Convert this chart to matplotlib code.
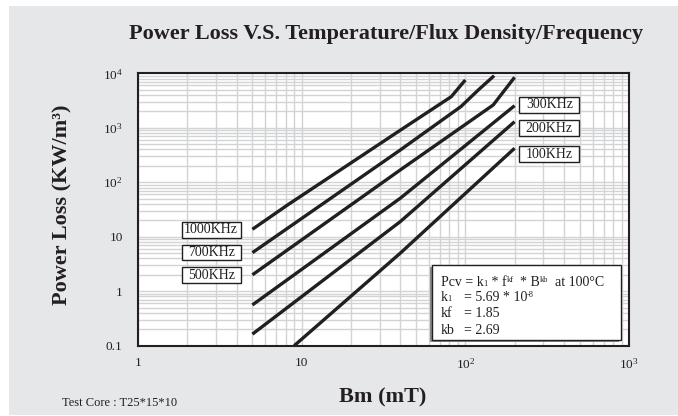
import matplotlib
matplotlib.use("Agg")
import matplotlib.pyplot as plt
from matplotlib.patches import Rectangle
from matplotlib.ticker import FixedLocator, FixedFormatter, LogLocator, NullFormatter

plt.rcParams['font.family'] = ['Liberation Serif', 'DejaVu Serif']
plt.rcParams['mathtext.fontset'] = 'custom'
plt.rcParams['mathtext.rm'] = 'Liberation Serif'
plt.rcParams['mathtext.it'] = 'Liberation Serif:italic'
plt.rcParams['mathtext.bf'] = 'Liberation Serif:bold'

#%% data (B in mT, P in kW/m3)

b_1000 = [5, 8.2, 40, 82, 100]
p_1000 = [13.7, 38.3, 900, 3720, 7540]

b_700 = [5, 40, 94, 120, 150]
p_700 = [5.1, 390, 2450, 4940, 9040]

b_500 = [5, 40, 148, 200]
p_500 = [2.0, 168, 2620, 8450]

b_300 = [5, 40, 200]
p_300 = [0.56, 50.8, 2545]

b_200 = [5, 40, 200]
p_200 = [0.163, 18.9, 1294]

b_100 = [9, 40, 200]
p_100 = [0.1, 4.98, 421]

left_labels = ['1000KHz', '700KHz', '500KHz']
right_labels = ['300KHz', '200KHz', '100KHz']

x_ticks = [1, 10, 100, 1000]
x_ticklabels = ['1', '10', r'$10^{2}$', r'$10^{3}$']
y_ticks = [0.1, 1, 10, 100, 1000, 10000]
y_ticklabels = ['0.1', '1', '10', r'$10^{2}$', r'$10^{3}$', r'$10^{4}$']

#%%

W, H = 678, 416
ink = '#231f20'


def fx(x):
    return x / W


def fy(y):
    return 1 - y / H


fig = plt.figure(figsize=(W / 100, H / 100), dpi=100, facecolor='white')
fig.add_artist(Rectangle((fx(9), fy(415)), fx(W - 9), (415 - 6) / H,
                         transform=fig.transFigure, facecolor='#e6e7e9',
                         edgecolor='none', zorder=0))

ax = fig.add_axes([fx(138), fy(345.7), fx(629 - 138), (345.7 - 73.3) / H])
ax.set_facecolor('white')
ax.set_xscale('log')
ax.set_yscale('log')
ax.set_xlim(1, 1000)
ax.set_ylim(0.1, 10000)

ax.xaxis.set_major_locator(FixedLocator(x_ticks))
ax.xaxis.set_major_formatter(FixedFormatter(x_ticklabels))
ax.yaxis.set_major_locator(FixedLocator(y_ticks))
ax.yaxis.set_major_formatter(FixedFormatter(y_ticklabels))
ax.xaxis.set_minor_locator(LogLocator(base=10, subs=range(2, 10), numticks=20))
ax.yaxis.set_minor_locator(LogLocator(base=10, subs=range(2, 10), numticks=20))
ax.xaxis.set_minor_formatter(NullFormatter())
ax.yaxis.set_minor_formatter(NullFormatter())
ax.tick_params(which='both', length=0, labelsize=9.5, colors=ink)
ax.tick_params(axis='x', pad=8)
ax.tick_params(axis='y', pad=11)
ax.grid(which='both', color='#d2d3d5', lw=1.0)
ax.set_axisbelow(True)
for s in ax.spines.values():
    s.set_color(ink)
    s.set_linewidth(1.5)

for b, p in [(b_1000, p_1000), (b_700, p_700), (b_500, p_500),
             (b_300, p_300), (b_200, p_200), (b_100, p_100)]:
    ax.plot(b, p, color=ink, lw=2.4, solid_capstyle='butt', solid_joinstyle='round')

#%% frequency boxes


def label_box(x0, y0, x1, y1, txt):
    fig.add_artist(Rectangle((fx(x0), fy(y1)), fx(x1 - x0), (y1 - y0) / H,
                             transform=fig.transFigure, facecolor='white',
                             edgecolor=ink, lw=1.0, zorder=5))
    fig.text(fx((x0 + x1) / 2), fy((y0 + y1) / 2), txt, ha='center', va='center',
             fontsize=10, color=ink, zorder=6)


for i, t in enumerate(left_labels):
    top = 221.7 + i * 22.8
    label_box(181.7, top, 240.7, top + 15.8, t)

for i, t in enumerate(right_labels):
    top = [96.7, 120.0, 146.0][i]
    label_box(519.3, top, 579.3, top + 16.2, t)

#%% formula box

fig.add_artist(Rectangle((fx(430), fy(341.5)), fx(620.7 - 431.7), (340 - 265) / H,
                         transform=fig.transFigure, facecolor='#8a8a8c',
                         edgecolor='none', zorder=5))
fig.add_artist(Rectangle((fx(431.7), fy(340)), fx(620.7 - 431.7), (340 - 265) / H,
                         transform=fig.transFigure, facecolor='white',
                         edgecolor=ink, lw=1.0, zorder=6))

renderer = fig.canvas.get_renderer()


def rich(x, y, pieces):
    # pieces: (text, fontsize, raise in px) drawn one after another on a baseline
    for s, size, dy in pieces:
        t = fig.text(fx(x), fy(y - dy), s, ha='left', va='baseline',
                     fontsize=size, color=ink, zorder=7)
        x += t.get_window_extent(renderer).width


fs, small = 10, 6
rich(440.7, 286, [('Pcv = k', fs, 0), ('1', small, 0), (' * f', fs, 0), ('kf', small, 4),
                  ('  * B', fs, 0), ('kb', small, 4), ('  at 100°C', fs, 0)])
rich(440.7, 301, [('k', fs, 0), ('1', small, 0)])
rich(463.5, 301, [('= 5.69 * 10', fs, 0), ('-8', small, 4)])
rich(440.7, 317, [('kf', fs, 0)])
rich(463.5, 317, [('= 1.85', fs, 0)])
rich(440.7, 333.5, [('kb', fs, 0)])
rich(463.5, 333.5, [('= 2.69', fs, 0)])

#%% titles

fig.text(fx(386), fy(34), 'Power Loss V.S. Temperature/Flux Density/Frequency',
         ha='center', va='center', fontsize=16, fontweight='bold', color=ink)
fig.text(fx(62), fy(205), 'Power Loss (KW/m³)', rotation=90,
         ha='center', va='center', fontsize=16, fontweight='bold', color=ink)
fig.text(fx(383), fy(397), 'Bm (mT)', ha='center', va='center',
         fontsize=16, fontweight='bold', color=ink)
fig.text(fx(62), fy(403), 'Test Core : T25*15*10', ha='left', va='center',
         fontsize=9, color=ink)

fig.savefig('out.png', dpi=100, facecolor=fig.get_facecolor())
